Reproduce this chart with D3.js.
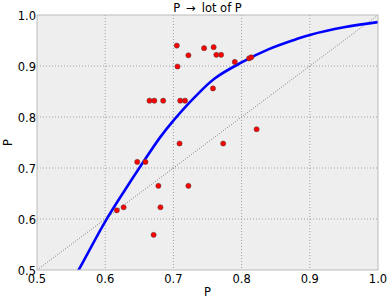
<!DOCTYPE html>
<html>
<head>
<meta charset="utf-8">
<script src="https://cdn.jsdelivr.net/npm/d3@7"></script>
<style>
  body { margin: 0; background: #fff; }
  text { font-family: "DejaVu Sans", sans-serif; fill: #000; }
</style>
</head>
<body>
<div class="canvas"></div>
<script>
const WIDTH = 390;
const HEIGHT = 303;
const margin = { top: 15, right: 12, bottom: 33, left: 37 };
const graphWidth = WIDTH - margin.left - margin.right;
const graphHeight = HEIGHT - margin.top - margin.bottom;

// data
const pointX = [0.705, 0.722, 0.745, 0.759, 0.763, 0.770, 0.706, 0.790, 0.811, 0.814,
  0.758, 0.665, 0.672, 0.685, 0.710, 0.717, 0.822, 0.709, 0.773,
  0.647, 0.659, 0.678, 0.722, 0.617, 0.627, 0.681, 0.671];
const pointY = [0.940, 0.921, 0.935, 0.937, 0.922, 0.922, 0.899, 0.908, 0.915, 0.917,
  0.856, 0.832, 0.832, 0.832, 0.832, 0.832, 0.776, 0.748, 0.748,
  0.712, 0.712, 0.665, 0.665, 0.617, 0.623, 0.623, 0.569];

const curveX = [0.545, 0.561, 0.600, 0.629, 0.650, 0.681, 0.700, 0.732, 0.761, 0.800, 0.840, 0.879, 0.900, 0.950, 1.000];
const curveY = [0.463, 0.500, 0.595, 0.657, 0.700, 0.761, 0.793, 0.840, 0.876, 0.907, 0.933, 0.952, 0.961, 0.976, 0.986];

const xTicks = [0.5, 0.6, 0.7, 0.8, 0.9, 1.0];
const yTicks = [0.5, 0.6, 0.7, 0.8, 0.9, 1.0];
const diagonal = [0.5, 1.0];

// colors
const bgGray = '#eeeeee';
const gridGray = '#a0a0a0';

const svg = d3.select('.canvas')
  .append('svg')
    .attr('width', WIDTH)
    .attr('height', HEIGHT);

const graph = svg.append('g')
  .attr('transform', `translate(${margin.left}, ${margin.top})`);

// scales
const x = d3.scaleLinear().domain([0.5, 1.0]).range([0, graphWidth]);
const y = d3.scaleLinear().domain([0.5, 1.0]).range([graphHeight, 0]);

svg.append('defs').append('clipPath').attr('id', 'clip')
  .append('rect').attr('width', graphWidth).attr('height', graphHeight);

// background
graph.append('rect')
  .attr('width', graphWidth)
  .attr('height', graphHeight)
  .attr('fill', bgGray);

// grid
graph.append('g').selectAll('line')
  .data(xTicks.slice(1, -1))
  .enter().append('line')
    .attr('x1', d => x(d)).attr('x2', d => x(d))
    .attr('y1', 0).attr('y2', graphHeight)
    .attr('stroke', gridGray).attr('stroke-width', 1).attr('stroke-dasharray', '1,2');

graph.append('g').selectAll('line')
  .data(yTicks.slice(1, -1))
  .enter().append('line')
    .attr('x1', 0).attr('x2', graphWidth)
    .attr('y1', d => y(d)).attr('y2', d => y(d))
    .attr('stroke', gridGray).attr('stroke-width', 1).attr('stroke-dasharray', '1,2');

const plot = graph.append('g').attr('clip-path', 'url(#clip)');

// diagonal reference line
plot.append('path')
  .datum(diagonal)
  .attr('fill', 'none')
  .attr('stroke', '#666')
  .attr('stroke-width', 0.8)
  .attr('stroke-dasharray', '1,1.5')
  .attr('d', d3.line().x(d => x(d)).y(d => y(d)));

// fitted curve
const line = d3.line()
  .x(d => x(d[0]))
  .y(d => y(d[1]))
  .curve(d3.curveCatmullRom);

plot.append('path')
  .datum(curveX.map((v, i) => [v, curveY[i]]))
  .attr('fill', 'none')
  .attr('stroke', '#0000ff')
  .attr('stroke-width', 2.6)
  .attr('d', line);

// points
plot.selectAll('circle')
  .data(pointX.map((v, i) => [v, pointY[i]]))
  .enter().append('circle')
    .attr('cx', d => x(d[0]))
    .attr('cy', d => y(d[1]))
    .attr('r', 2.6)
    .attr('fill', '#ff0000')
    .attr('stroke', '#444')
    .attr('stroke-width', 0.5);

// frame
graph.append('rect')
  .attr('width', graphWidth)
  .attr('height', graphHeight)
  .attr('fill', 'none')
  .attr('stroke', '#bbbbbb')
  .attr('stroke-width', 1);

// tick labels
graph.append('g').selectAll('text')
  .data(xTicks)
  .enter().append('text')
    .attr('x', d => x(d))
    .attr('y', graphHeight + 13)
    .attr('text-anchor', 'middle')
    .attr('font-size', 11.5)
    .text(d => d.toFixed(1));

graph.append('g').selectAll('text')
  .data(yTicks)
  .enter().append('text')
    .attr('x', -1)
    .attr('y', d => y(d) + 4.5)
    .attr('text-anchor', 'end')
    .attr('font-size', 11.5)
    .text(d => d.toFixed(1));

// axis labels and title
svg.append('text')
  .attr('x', margin.left + graphWidth / 2)
  .attr('y', 296)
  .attr('text-anchor', 'middle')
  .attr('font-size', 11.5)
  .text('P');

svg.append('text')
  .attr('transform', `translate(12, ${margin.top + graphHeight / 2}) rotate(-90)`)
  .attr('text-anchor', 'middle')
  .attr('font-size', 11.5)
  .text('P');

svg.append('text')
  .attr('x', margin.left + graphWidth / 2)
  .attr('y', 12)
  .attr('text-anchor', 'middle')
  .attr('font-size', 11.5)
  .text('P \u2009\u2192\u2009 lot of P');
</script>
</body>
</html>
